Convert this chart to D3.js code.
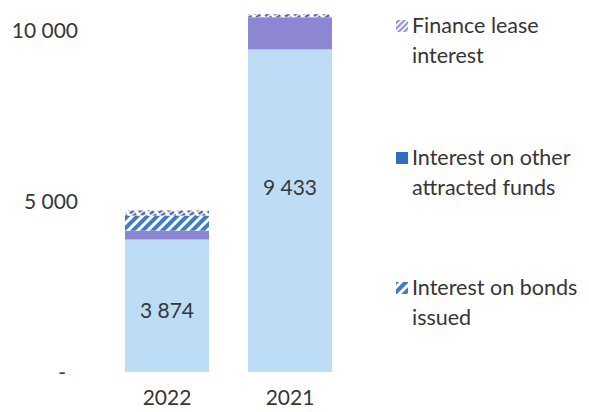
<!DOCTYPE html>
<html>
<head>
<meta charset="utf-8">
<script src="https://cdn.jsdelivr.net/npm/d3@7"></script>
<style>
  html, body { margin: 0; padding: 0; background: #ffffff; }
  svg { display: block; }
  text { font-family: Lato, "Open Sans", sans-serif; fill: #363636; }
</style>
</head>
<body>
<svg id="chart" width="589" height="412"></svg>
<script>
// Interest expense by type, per year
const years = ["2022", "2021"];
const mainInterest   = [3874, 9433];
const otherFunds     = [260, 940];
const bondsIssued    = [440, 0];
const financeLease   = [150, 90];
// where each value label sits along the value axis
const labelAt        = [1800, 5400];
const yTicks = [0, 5000, 10000];
const legendLabels = [
  ["Finance lease", "interest"],
  ["Interest on other", "attracted funds"],
  ["Interest on bonds", "issued"]
];

const rows = years.map((y, i) => ({
  year: y,
  main: mainInterest[i],
  other: otherFunds[i],
  bonds: bondsIssued[i],
  lease: financeLease[i],
  labelAt: labelAt[i]
}));
const keys = ["main", "other", "bonds", "lease"];

const svg = d3.select("#chart");
const defs = svg.append("defs");

// diagonal hatch for bonds
const pb = defs.append("pattern").attr("id", "hatchBonds")
  .attr("patternUnits", "userSpaceOnUse").attr("width", 7).attr("height", 7)
  .attr("patternTransform", "rotate(45)");
pb.append("rect").attr("width", 7).attr("height", 7).attr("fill", "#3f7cc6");
pb.append("rect").attr("width", 3).attr("height", 7).attr("fill", "#ffffff");

// fine dashed pattern for finance lease (bars)
const pl = defs.append("pattern").attr("id", "hatchLease")
  .attr("patternUnits", "userSpaceOnUse").attr("width", 8).attr("height", 4)
  .attr("patternTransform", "rotate(-35)");
pl.append("rect").attr("width", 8).attr("height", 4).attr("fill", "#ffffff");
pl.append("rect").attr("width", 5).attr("height", 2.5).attr("fill", "#5a66a6");

// lighter variant for the legend swatch
const pl2 = defs.append("pattern").attr("id", "hatchLeaseKey")
  .attr("patternUnits", "userSpaceOnUse").attr("width", 4).attr("height", 4)
  .attr("patternTransform", "rotate(-45)");
pl2.append("rect").attr("width", 4).attr("height", 4).attr("fill", "#ffffff");
pl2.append("rect").attr("width", 4).attr("height", 2.2).attr("fill", "#9a92d4");

const fills = {
  main: "#bddcf6",
  other: "#8d86d2",
  bonds: "url(#hatchBonds)",
  lease: "url(#hatchLease)"
};

const x = d3.scaleBand().domain(years).range([105.5, 351.5])
  .paddingInner(0.317).paddingOuter(0.1585);
const y = d3.scaleLinear().domain([0, 10000]).range([372, 30]);

const stack = d3.stack().keys(keys)(rows);

svg.append("g").selectAll("g").data(stack).join("g")
  .attr("fill", d => fills[d.key])
  .selectAll("rect").data(d => d).join("rect")
  .attr("x", d => x(d.data.year))
  .attr("width", x.bandwidth())
  .attr("y", d => y(d[1]))
  .attr("height", d => Math.max(0, y(d[0]) - y(d[1])));

// value labels on the main segment
const loc = d3.formatLocale({ decimal: ",", thousands: "\u00a0", grouping: [3], currency: ["", ""] });
const fmt = loc.format(",d");
svg.append("g").selectAll("text").data(rows).join("text")
  .attr("x", d => x(d.year) + x.bandwidth() / 2)
  .attr("y", d => y(d.labelAt))
  .attr("dy", "0.35em")
  .attr("text-anchor", "middle")
  .style("font-size", "21px")
  .text(d => fmt(d.main));

// y axis
const yAxis = d3.axisLeft(y).tickValues(yTicks).tickSize(0).tickPadding(0)
  .tickFormat(v => v === 0 ? "-" : fmt(v));
const gy = svg.append("g").attr("transform", "translate(78,1)").call(yAxis);
gy.select(".domain").remove();
gy.selectAll("text").style("font-size", "21px").style("font-family", "Lato, sans-serif")
  .attr("fill", "#363636")
  .attr("dx", v => v === 0 ? -12 : 0);

// x axis
const xAxis = d3.axisBottom(x).tickSize(0).tickPadding(0);
const gx = svg.append("g").attr("transform", "translate(0,390)").call(xAxis);
gx.select(".domain").remove();
gx.selectAll("text").style("font-size", "21px").style("font-family", "Lato, sans-serif")
  .attr("fill", "#363636").attr("dy", "0.71em");

// legend
const legendY = [33, 165, 295];
const legendFill = ["url(#hatchLeaseKey)", "#2f6fc0", "url(#hatchBonds)"];
const lg = svg.append("g").selectAll("g").data(legendLabels).join("g")
  .attr("transform", (d, i) => `translate(0,${legendY[i]})`);
lg.append("rect")
  .attr("x", 396).attr("y", -13).attr("width", 12).attr("height", 12)
  .attr("fill", (d, i) => legendFill[i]);
lg.append("text")
  .attr("x", 412)
  .style("font-size", "21.5px")
  .selectAll("tspan").data(d => d).join("tspan")
  .attr("x", 412).attr("dy", (d, j) => j === 0 ? 0 : 30)
  .text(d => d);
</script>
</body>
</html>
